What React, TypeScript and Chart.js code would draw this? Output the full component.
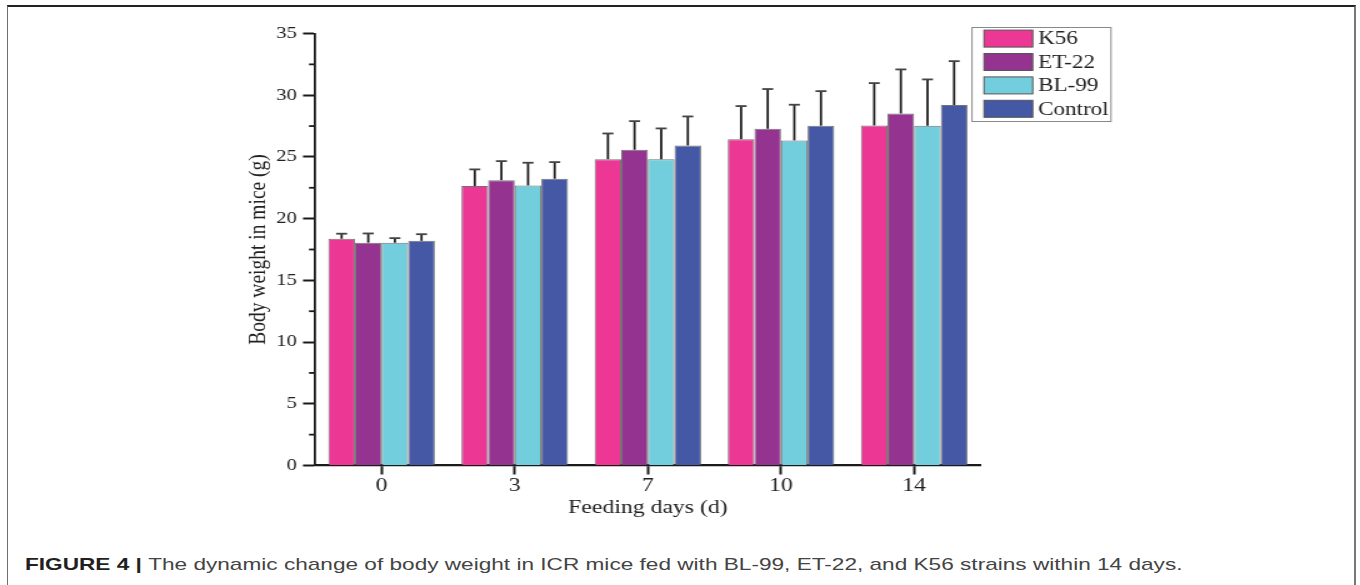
import React, { useEffect, useRef } from "react";
import { Chart, registerables } from "chart.js";

Chart.register(...registerables);

// ---- data ----
const categories = ["0", "3", "7", "10", "14"];
const seriesNames = ["K56", "ET-22", "BL-99", "Control"];
const k56 = [18.37, 22.64, 24.82, 26.44, 27.55];
const et22 = [18.05, 23.12, 25.58, 27.28, 28.52];
const bl99 = [18.05, 22.69, 24.82, 26.34, 27.53];
const control = [18.2, 23.23, 25.93, 27.53, 29.2];
const k56Sd = [0.41, 1.35, 2.08, 2.68, 3.43];
const et22Sd = [0.75, 1.54, 2.32, 3.22, 3.57];
const bl99Sd = [0.37, 1.84, 2.49, 2.89, 3.75];
const controlSd = [0.54, 1.35, 2.35, 2.8, 3.56];
const yMinorTicks = [2.5, 7.5, 12.5, 17.5, 22.5, 27.5, 32.5];

const colors = ["#EC3894", "#943490", "#72CEDD", "#4458A6"];
const seriesValues = [k56, et22, bl99, control];
const seriesErrors = [k56Sd, et22Sd, bl99Sd, controlSd];

const STRETCH = 1.25;
const CAPTION_STRETCH = 1.33;
const W = 1088;
const H = 540;
const SERIF = "'Liberation Serif', 'Times New Roman', serif";

const errorBarPlugin = {
  id: "errorBars",
  afterDatasetsDraw(chart: any) {
    const ctx = chart.ctx;
    const ys = chart.scales.y;
    chart.data.datasets.forEach((ds: any, di: number) => {
      const meta = chart.getDatasetMeta(di);
      const errs = seriesErrors[di];
      meta.data.forEach((bar: any, i: number) => {
        const v = ds.data[i];
        const top = ys.getPixelForValue(v + errs[i]);
        const base = ys.getPixelForValue(v);
        ctx.save();
        ctx.strokeStyle = "#1e1e1e";
        ctx.lineWidth = 1.8;
        ctx.beginPath();
        ctx.moveTo(bar.x, base);
        ctx.lineTo(bar.x, top);
        ctx.stroke();
        ctx.strokeStyle = "#444";
        ctx.beginPath();
        ctx.moveTo(bar.x - 4.4, top);
        ctx.lineTo(bar.x + 4.4, top);
        ctx.stroke();
        ctx.restore();
      });
    });
  },
};

const minorTickPlugin = {
  id: "minorTicks",
  afterDraw(chart: any) {
    const ctx = chart.ctx;
    const ys = chart.scales.y;
    const left = chart.chartArea.left;
    ctx.save();
    ctx.strokeStyle = "#1a1a1a";
    ctx.lineWidth = 1.8;
    yMinorTicks.forEach((v) => {
      const py = ys.getPixelForValue(v);
      ctx.beginPath();
      ctx.moveTo(left - 4.8, py);
      ctx.lineTo(left, py);
      ctx.stroke();
    });
    ctx.restore();
  },
};

const legendPlugin = {
  id: "boxLegend",
  afterDraw(chart: any) {
    const ctx = chart.ctx;
    const bx = 777.6;
    const by = 27.5;
    const bw = 111.2;
    const bh = 94;
    ctx.save();
    ctx.fillStyle = "#fff";
    ctx.fillRect(bx, by, bw, bh);
    ctx.strokeStyle = "#888";
    ctx.lineWidth = 1;
    ctx.strokeRect(bx, by, bw, bh);
    const rows = [38.6, 62, 85.4, 108.8];
    chart.data.datasets.forEach((ds: any, i: number) => {
      const cy = rows[i];
      ctx.fillStyle = ds.backgroundColor;
      ctx.fillRect(787.2, cy - 8.5, 39, 17);
      ctx.strokeStyle = "#555";
      ctx.lineWidth = 1;
      ctx.strokeRect(787.2, cy - 8.5, 39, 17);
      ctx.fillStyle = "#222";
      ctx.font = `18.5px ${SERIF}`;
      ctx.textBaseline = "middle";
      ctx.textAlign = "left";
      ctx.fillText(ds.label, 830.4, cy + 1);
    });
    ctx.restore();
  },
};

function BarChart() {
  const ref = useRef<HTMLCanvasElement | null>(null);
  useEffect(() => {
    if (!ref.current) return;
    const chart = new Chart(ref.current, {
      type: "bar",
      data: {
        labels: categories,
        datasets: seriesNames.map((name, i) => ({
          label: name,
          data: seriesValues[i],
          backgroundColor: colors[i],
          borderColor: "rgba(90,90,90,0.85)",
          borderWidth: 1,
          categoryPercentage: 0.8,
          barPercentage: 1.0,
        })),
      },
      options: {
        animation: false,
        responsive: false,
        devicePixelRatio: 1,
        layout: { padding: { left: 195.4, right: 303.4, top: 33.5, bottom: 20.1 } },
        plugins: { legend: { display: false }, tooltip: { enabled: false } },
        scales: {
          x: {
            offset: true,
            grid: {
              display: true,
              offset: false,
              drawOnChartArea: false,
              drawTicks: true,
              tickLength: 9,
              tickWidth: 2,
              tickColor: "#1a1a1a",
            },
            border: { display: true, color: "#1a1a1a", width: 2.2 },
            ticks: { font: { family: SERIF, size: 19 }, color: "#222", padding: 0 },
            title: {
              display: true,
              text: "Feeding days (d)",
              font: { family: SERIF, size: 19 },
              color: "#222",
              padding: 0,
            },
            afterFit(scale: any) {
              scale.height = 54.4;
            },
          },
          y: {
            min: 0,
            max: 35,
            ticks: { stepSize: 5, font: { family: SERIF, size: 16.5 }, color: "#222", padding: 4.8 },
            grid: {
              display: true,
              drawOnChartArea: false,
              drawTicks: true,
              tickLength: 9.6,
              tickWidth: 2,
              tickColor: "#1a1a1a",
            },
            border: { display: true, color: "#1a1a1a", width: 1.8 },
            title: {
              display: true,
              text: "Body weight in mice (g)",
              font: { family: SERIF, size: 19.5 },
              color: "#222",
              padding: 0,
            },
            afterFit(scale: any) {
              scale.width = 56.6;
            },
          },
        },
      },
      plugins: [errorBarPlugin, minorTickPlugin, legendPlugin],
    });
    return () => chart.destroy();
  }, []);
  return (
    <canvas
      ref={ref}
      width={W}
      height={H}
      style={{ width: W + "px", height: H + "px", display: "block" }}
    />
  );
}

export default function App() {
  return (
    <div
      style={{
        position: "fixed",
        left: 0,
        top: 0,
        width: 1360,
        height: 585,
        overflow: "hidden",
        background: "#fff",
      }}
    >
      <div
        style={{
          position: "absolute",
          left: 7,
          top: 5,
          width: 1349,
          height: 590,
          boxSizing: "border-box",
          borderTop: "2px solid #222",
          borderLeft: "1.5px solid #707070",
          borderRight: "2px solid #777",
        }}
      />
      <div
        style={{
          position: "absolute",
          left: 0,
          top: 0,
          width: W,
          height: H,
          transform: `scaleX(${STRETCH})`,
          transformOrigin: "0 0",
        }}
      >
        <BarChart />
      </div>
      <div
        style={{
          position: "absolute",
          left: 25,
          top: 555,
          whiteSpace: "nowrap",
          fontFamily: "'Liberation Sans', Arial, sans-serif",
          fontSize: 17,
          lineHeight: "20px",
          color: "#444",
          transform: `scaleX(${CAPTION_STRETCH})`,
          transformOrigin: "0 0",
        }}
      >
        <span style={{ fontWeight: "bold", color: "#231f20" }}>FIGURE 4 | </span>
        The dynamic change of body weight in ICR mice fed with BL-99, ET-22, and K56 strains within 14 days.
      </div>
    </div>
  );
}
